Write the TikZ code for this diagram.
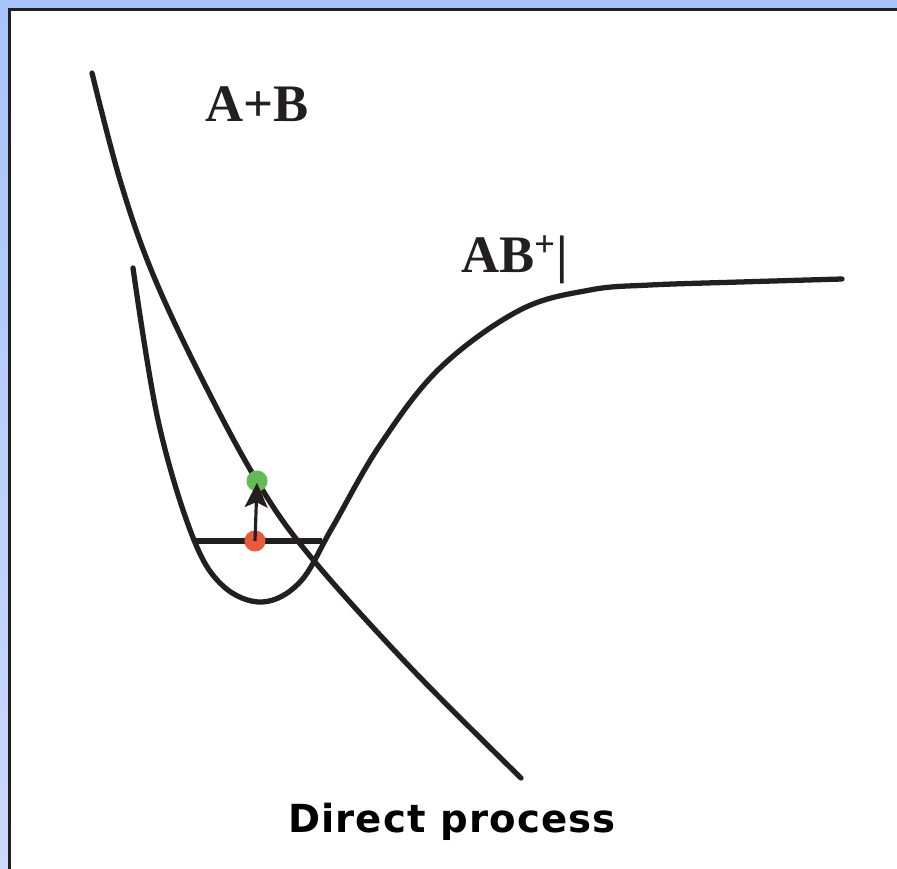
\documentclass[tikz,border=0pt]{standalone}
\usepackage{fontspec}
\setmainfont{Liberation Serif}
\newfontfamily\labelfont[LetterSpace=3]{DejaVu Sans}
\usetikzlibrary{arrows.meta, positioning}
\definecolor{cink}{HTML}{231F20}
\definecolor{cred}{HTML}{E85A3A}
\definecolor{cgreen}{HTML}{62BC55}
\definecolor{cbandtop}{HTML}{A8C4FA}
\definecolor{cbandbot}{HTML}{CCDAFC}
\tikzset{
  curve/.style={draw=cink, line width=3pt, line cap=round},
  level/.style={draw=cink, line width=3.3pt},
  dot/.style={circle, fill=#1, minimum size=12pt, inner sep=0pt},
  arrow/.style={-{Stealth[length=14pt, width=13pt, inset=3pt]}, draw=cink, line width=1.8pt},
  title/.style={font=\fontsize{30}{36}\selectfont\bfseries, text=cink},
  note/.style={font=\labelfont\bfseries\fontsize{22}{26}\selectfont, text=black},
}
\begin{document}
\begin{tikzpicture}[x=0.02cm, y=-0.02cm]
  \useasboundingbox (0,0) rectangle (897,869);
  % frame
  \shade[top color=cbandtop, bottom color=cbandbot] (0,0) rectangle (897,869);
  \fill[white] (9,9) rectangle (897,869);
  \draw[line width=1.3pt, draw=cink] (9.5,869) -- (9.5,9.5) -- (897,9.5);
  % repulsive curve A+B
  \draw[curve] plot[smooth, tension=0.6] coordinates
    {(92,73) (120,180) (152,272) (200,375) (257,481) (310,556) (410,667) (521,778)};
  % bound curve AB+
  \draw[curve] plot[smooth, tension=0.6] coordinates
    {(133,268) (158,420) (192,535) (222,585) (262,602) (300,582) (332,528)
     (380,445) (440,368) (520,310) (590,290) (650,285) (740,282) (842,279)};
  % vibrational level
  \coordinate (lvlL) at (195,541);
  \coordinate (lvlR) at (322,541);
  \draw[level] (lvlL) -- (lvlR);
  \node[dot=cred] (lower) at (255,541) {};
  \node[dot=cgreen] (upper) at (257,481) {};
  \draw[arrow] (lower.center) -- ([yshift=-1pt]upper.center);
  % labels
  \node[title] (ab) at (257,104) {A+B};
  \node[title, anchor=west] (abplus) at (455,260) {AB\textsuperscript{+}|};
  \node[note] (proc) at (452,822) {Direct process};
\end{tikzpicture}
\end{document}
